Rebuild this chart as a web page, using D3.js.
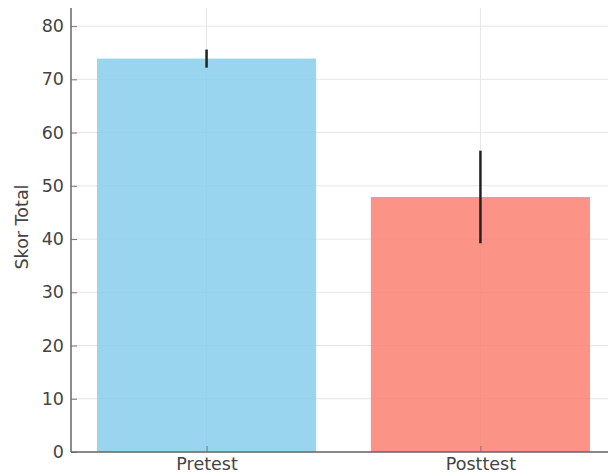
<!DOCTYPE html>
<html>
<head>
<meta charset="utf-8">
<script src="https://cdn.jsdelivr.net/npm/d3@7"></script>
<style>
  body { margin: 0; background: #fff; }
  svg text { font-family: "DejaVu Sans", sans-serif; }
</style>
</head>
<body>
<svg width="608" height="476"></svg>
<script>
'use strict';

var categories = ["Pretest", "Posttest"];
var means = [73.9, 47.9];
var errors = [1.7, 8.7];
var colors = ["#87CEEB", "#FA8072"];
var yTicks = [0, 10, 20, 30, 40, 50, 60, 70, 80];

var margin = {top: 8, right: -8, bottom: 24, left: 71};
var svg = d3.select("svg"),
    width = +svg.attr("width") - margin.left - margin.right,
    height = +svg.attr("height") - margin.top - margin.bottom;

var g = svg.append("g").attr("transform", "translate(" + margin.left + "," + margin.top + ")");

// categorical positions like matplotlib: index -> x, bars 0.8 wide
var x = d3.scaleLinear().domain([-0.495, 1.495]).range([0, width]);
var y = d3.scaleLinear().domain([0, 83.4]).range([height, 0]);
var barW = x(0.8) - x(0);

// grid
g.selectAll(".hgrid").data(yTicks).enter().append("line")
  .attr("x1", 0).attr("x2", width)
  .attr("y1", function(d) { return y(d); }).attr("y2", function(d) { return y(d); })
  .attr("stroke", "#e6e6e6").attr("stroke-width", 1);
g.selectAll(".vgrid").data(categories).enter().append("line")
  .attr("x1", function(d, i) { return x(i); }).attr("x2", function(d, i) { return x(i); })
  .attr("y1", 0).attr("y2", height)
  .attr("stroke", "#e6e6e6").attr("stroke-width", 1);

// bars
g.selectAll(".bar").data(means).enter().append("rect")
  .attr("x", function(d, i) { return x(i) - barW / 2; })
  .attr("width", barW)
  .attr("y", function(d) { return y(d); })
  .attr("height", function(d) { return height - y(d); })
  .attr("fill", function(d, i) { return colors[i]; })
  .attr("fill-opacity", 0.85);

// error bars
g.selectAll(".err").data(means).enter().append("line")
  .attr("x1", function(d, i) { return x(i); }).attr("x2", function(d, i) { return x(i); })
  .attr("y1", function(d, i) { return y(d - errors[i]); })
  .attr("y2", function(d, i) { return y(d + errors[i]); })
  .attr("stroke", "#222").attr("stroke-width", 2.5);

// axes, ticks pointing inward
var yAxis = d3.axisLeft(y).tickValues(yTicks).tickSize(-6).tickPadding(7);
var yg = g.append("g").call(yAxis);
yg.select(".domain").attr("stroke", "#666").attr("stroke-width", 1.5).attr("d", "M0," + height + "V0");
yg.selectAll(".tick line").attr("stroke", "#777");
yg.selectAll(".tick text").attr("fill", "#444").style("font-size", "17.5px");

var xAxis = d3.axisBottom(x).tickValues([0, 1]).tickFormat(function(d) { return categories[d]; }).tickSize(-6).tickPadding(6);
var xg = g.append("g").attr("transform", "translate(0," + height + ")").call(xAxis);
xg.select(".domain").attr("stroke", "#666").attr("stroke-width", 1.5).attr("d", "M0,0H" + width);
xg.selectAll(".tick line").attr("stroke", "#777");
xg.selectAll(".tick text").attr("fill", "#444").style("font-size", "17.5px");

g.append("text")
  .attr("transform", "rotate(-90)")
  .attr("x", -height / 2 + 3)
  .attr("y", -43)
  .attr("text-anchor", "middle")
  .attr("fill", "#444")
  .style("font-size", "17.5px")
  .text("Skor Total");
</script>
</body>
</html>
